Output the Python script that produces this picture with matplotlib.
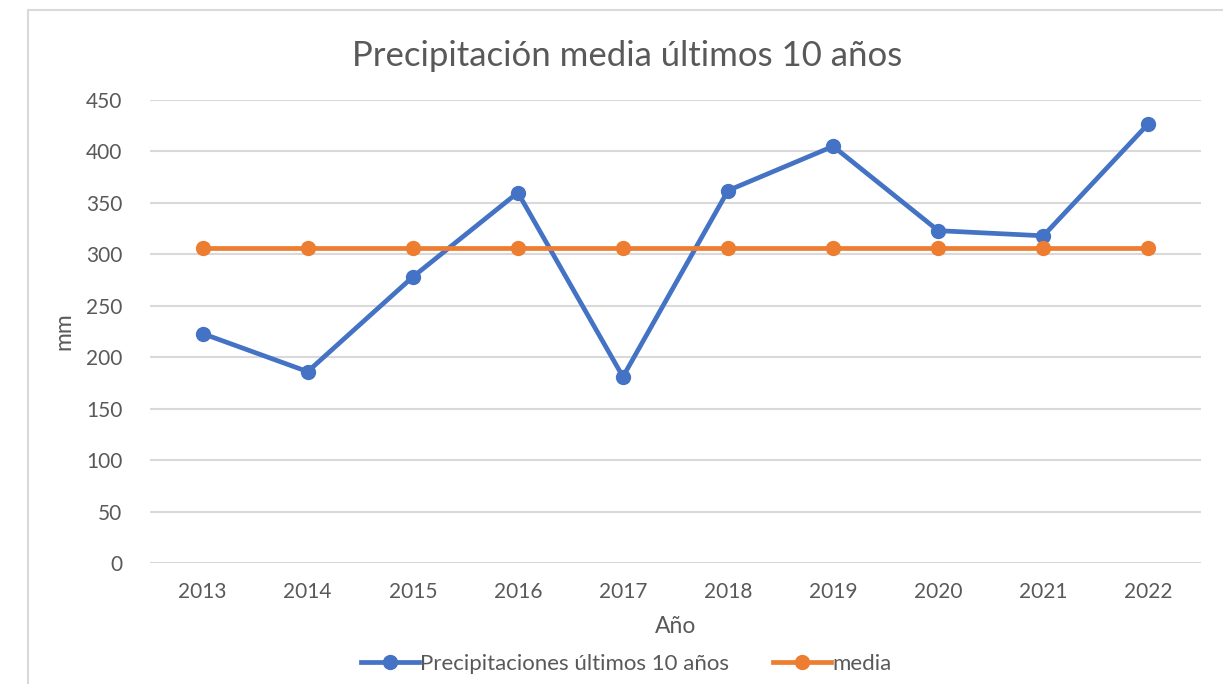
import matplotlib.pyplot as plt
from matplotlib.patches import Rectangle

# Datos
anios = ['2013', '2014', '2015', '2016', '2017', '2018', '2019', '2020', '2021', '2022']
precipitaciones = [223, 186, 278, 360, 181, 362, 405, 323, 318, 427]
media = [306, 306, 306, 306, 306, 306, 306, 306, 306, 306]

plt.rcParams['font.family'] = ['Lato', 'DejaVu Sans']
gris = '#595959'

fig = plt.figure(figsize=(12.23, 6.84), dpi=100)
ax = fig.add_axes([150 / 1223, 1 - 563 / 684, 1051 / 1223, 463 / 684])

# Marco del gráfico (recortado por la imagen)
fig.patches.append(Rectangle((28 / 1223, -0.1), 1.2, 1 - 10 / 684 + 0.1,
                             transform=fig.transFigure, fill=False,
                             edgecolor='#d9d9d9', linewidth=1.5))

x = range(len(anios))
ax.plot(x, precipitaciones, color='#4472c4', linewidth=3.4, marker='o',
        markersize=10, label='Precipitaciones últimos 10 años', zorder=3)
ax.plot(x, media, color='#ed7d31', linewidth=3.4, marker='o',
        markersize=10, label='media', zorder=3)

ax.set_xlim(-0.5, len(anios) - 0.5)
ax.set_ylim(0, 450)
ax.set_yticks(range(0, 451, 50))
ax.set_xticks(list(x))
ax.set_xticklabels(anios)
ax.grid(axis='y', color='#d9d9d9', linewidth=1.5)
ax.set_axisbelow(True)
for s in ax.spines.values():
    s.set_visible(False)
ax.tick_params(length=0, labelsize=15, colors=gris, pad=14)
ax.tick_params(axis='y', pad=20)

fig.text(627 / 1223, 1 - 56 / 684, 'Precipitación media últimos 10 años',
         fontsize=25, color=gris, ha='center', va='center')
ax.set_xlabel('Año', fontsize=16.5, color=gris, labelpad=10)
ax.set_ylabel('mm', fontsize=16.5, color=gris, labelpad=8)

ax.legend(loc='center', bbox_to_anchor=(0.453, -0.218), ncol=2, frameon=False,
          fontsize=16, labelcolor=gris, handlelength=2.6, columnspacing=2.0,
          handletextpad=0.05)

fig.savefig('out.png', dpi=100)
